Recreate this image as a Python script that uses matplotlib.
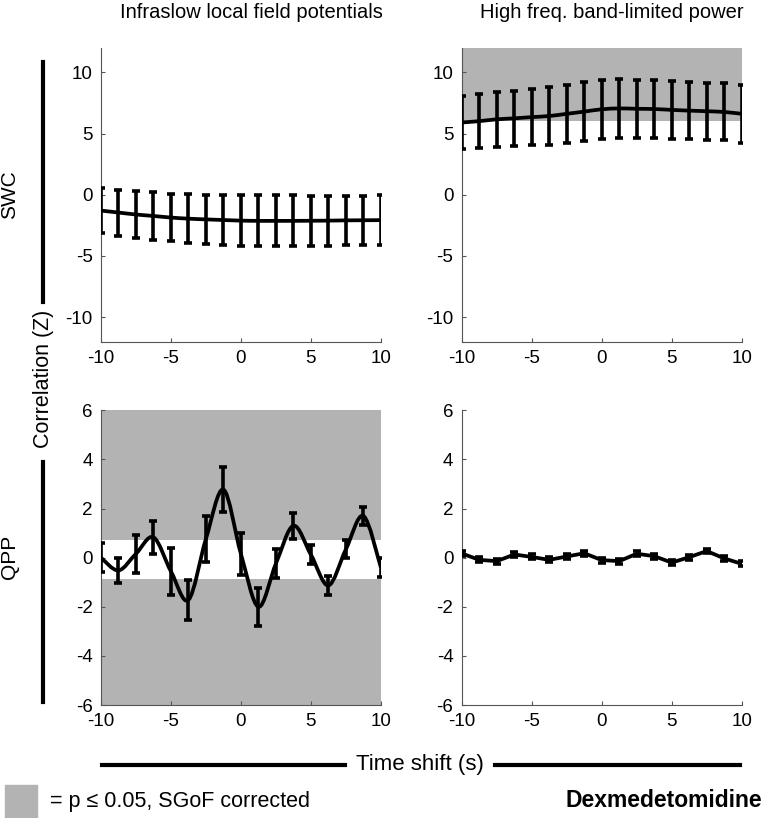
"""
cross-correlation of SWC / QPP with infraslow LFP and band-limited power
"""
import numpy as np
from matplotlib import pyplot as plt
from matplotlib.path import Path
from matplotlib.patches import PathPatch, Rectangle
from matplotlib.lines import Line2D

plt.rcParams['font.family'] = ['Liberation Sans', 'DejaVu Sans']
plt.rcParams['axes.unicode_minus'] = False

shift = [-10, -8.75, -7.5, -6.25, -5, -3.75, -2.5, -1.25, 0,
         1.25, 2.5, 3.75, 5, 6.25, 7.5, 8.75, 10]

swc_lfp = [-1.30, -1.46, -1.62, -1.74, -1.87, -1.96, -2.02, -2.07, -2.12,
           -2.14, -2.14, -2.14, -2.13, -2.12, -2.10, -2.09, -2.08]
swc_lfp_err = [1.87, 1.88, 1.95, 1.94, 1.95, 1.99, 2.02, 2.04, 2.08,
               2.08, 2.08, 2.08, 2.06, 2.05, 2.03, 2.02, 2.02]

swc_blp = [5.90, 6.01, 6.16, 6.24, 6.34, 6.43, 6.61, 6.79, 6.98,
           7.05, 7.02, 7.00, 6.93, 6.87, 6.82, 6.76, 6.61]
swc_blp_err = [2.19, 2.21, 2.26, 2.26, 2.30, 2.34, 2.35, 2.39, 2.39,
               2.40, 2.38, 2.37, 2.34, 2.33, 2.33, 2.33, 2.35]

qpp_lfp = [0.00, -0.52, 0.16, 0.83, -0.56, -1.72, 0.77, 2.77, 0.15,
           -2.00, -0.24, 1.30, 0.12, -1.13, 0.34, 1.70, -0.40]
qpp_lfp_err = [0.58, 0.50, 0.77, 0.68, 0.94, 0.81, 0.93, 0.90, 0.85,
               0.77, 0.59, 0.53, 0.39, 0.39, 0.36, 0.37, 0.37]

qpp_blp = [0.17, -0.09, -0.14, 0.13, 0.03, -0.09, 0.05, 0.18, -0.10,
           -0.14, 0.16, 0.06, -0.20, 0.02, 0.27, -0.03, -0.25]
qpp_blp_err = [0.10] * 17

# significant (SGoF corrected) ranges of correlation, per panel
sig_swc_lfp = []
sig_swc_blp = [(6.0, 12.0)]
sig_qpp_lfp = [(-6.0, -0.88), (0.72, 6.0)]
sig_qpp_blp = []

GREY = "#b3b3b3"


def smooth_path(x, y):
    # catmull-rom through the points, drawn as cubic bezier segments
    x = np.asarray(x, float)
    y = np.asarray(y, float)
    pts = np.column_stack([x, y])
    ext = np.vstack([pts[0], pts, pts[-1]])
    verts = [pts[0]]
    codes = [Path.MOVETO]
    for i in range(len(pts) - 1):
        p0, p1, p2, p3 = ext[i], ext[i + 1], ext[i + 2], ext[i + 3]
        verts += [p1 + (p2 - p0) / 6, p2 - (p3 - p1) / 6, p2]
        codes += [Path.CURVE4] * 3
    return Path(verts, codes)


def plot_panel(ax, mean, err, bands, lim, ticks, smooth=True):
    for lo, hi in bands:
        ax.axhspan(lo, hi, color=GREY, lw=0, zorder=0)
    if smooth:
        ax.add_patch(PathPatch(smooth_path(shift, mean), fill=False,
                               lw=2.7, color="black", zorder=3))
    else:
        ax.plot(shift, mean, color="black", lw=2.7, zorder=3)
    ax.errorbar(shift, mean, yerr=err, fmt="none", ecolor="black",
                elinewidth=2.6, capsize=3, capthick=2.6, zorder=4)
    ax.set_xlim(-10, 10)
    ax.set_ylim(-lim, lim)
    ax.set_xticks([-10, -5, 0, 5, 10])
    ax.set_yticks(ticks)
    ax.spines[["top", "right"]].set_visible(False)
    for s in ("left", "bottom"):
        ax.spines[s].set_color("#555555")
        ax.spines[s].set_linewidth(0.8)
    ax.tick_params(direction="in", length=3, width=0.8, color="#555555",
                   labelsize=13.5, pad=6)


fig = plt.figure(figsize=(7.71, 8.18), dpi=100)
w, h = 0.363, 0.359
ax_tl = fig.add_axes([0.131, 0.5825, w, h])
ax_tr = fig.add_axes([0.599, 0.5825, w, h])
ax_bl = fig.add_axes([0.131, 0.138, w, 0.3605])
ax_br = fig.add_axes([0.599, 0.138, w, 0.3605])

plot_panel(ax_tl, swc_lfp, swc_lfp_err, sig_swc_lfp, 12, [-10, -5, 0, 5, 10])
plot_panel(ax_tr, swc_blp, swc_blp_err, sig_swc_blp, 12, [-10, -5, 0, 5, 10])
plot_panel(ax_bl, qpp_lfp, qpp_lfp_err, sig_qpp_lfp, 6, [-6, -4, -2, 0, 2, 4, 6])
plot_panel(ax_br, qpp_blp, qpp_blp_err, sig_qpp_blp, 6, [-6, -4, -2, 0, 2, 4, 6],
           smooth=False)

fig.text(0.326, 0.985, "Infraslow local field potentials", ha="center",
         va="center", fontsize=14.5)
fig.text(0.793, 0.985, "High freq. band-limited power", ha="center",
         va="center", fontsize=14.5)

# row / axis labels with the long black brackets
x_bar = 0.0558
fig.add_artist(Line2D([x_bar, x_bar], [0.631, 0.924], color="black", lw=3,
                      transform=fig.transFigure))
fig.add_artist(Line2D([x_bar, x_bar], [0.142, 0.435], color="black", lw=3,
                      transform=fig.transFigure))
fig.text(x_bar, 0.537, "Correlation (Z)", rotation=90, ha="center",
         va="center", fontsize=15.5)
fig.text(0.012, 0.762, "SWC", rotation=90, ha="center", va="center",
         fontsize=15)
fig.text(0.012, 0.319, "QPP", rotation=90, ha="center", va="center",
         fontsize=15)

y_bar = 0.0648
fig.add_artist(Line2D([0.1323, 0.4475], [y_bar, y_bar], color="black", lw=3,
                      transform=fig.transFigure))
fig.add_artist(Line2D([0.642, 0.96], [y_bar, y_bar], color="black", lw=3,
                      transform=fig.transFigure))
fig.text(0.545, y_bar, "Time shift (s)", ha="center", va="center",
         fontsize=16)

fig.add_artist(Rectangle((0.0065, 0.0), 0.0415, 0.0403, color=GREY,
                         transform=fig.transFigure))
fig.text(0.0649, 0.0196, "= p \u2264 0.05, SGoF corrected", ha="left",
         va="center", fontsize=15.5)
fig.text(0.988, 0.021, "Dexmedetomidine", ha="right", va="center",
         fontsize=16.5, fontweight="bold")

plt.savefig("out.png", dpi=100)
